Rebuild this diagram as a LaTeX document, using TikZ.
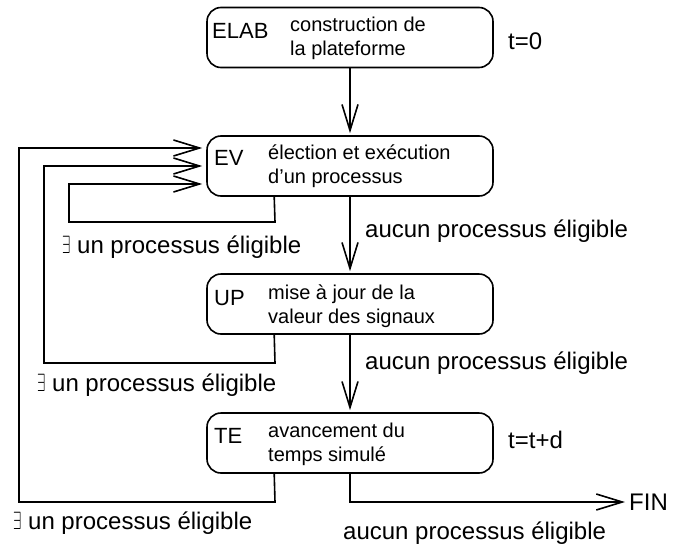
\documentclass[tikz,border=0pt]{standalone}
\usepackage{fontspec}
\setmainfont{Liberation Sans}
\usepackage{graphicx}
\usetikzlibrary{arrows.meta,calc}

\newcommand{\exsym}{\scalebox{.6}[1]{$\exists$}}

\begin{document}
\begin{tikzpicture}[x=1pt,y=-1pt,
  stage/.style={draw, line width=1.6pt, rounded corners=14pt,
    minimum width=286pt, minimum height=60pt, inner sep=0pt},
  tag/.style={anchor=base west, inner sep=0pt, font=\fontsize{22}{26}\selectfont},
  desc/.style={anchor=base west, inner sep=0pt, font=\fontsize{20}{24}\selectfont},
  note/.style={anchor=base west, inner sep=0pt, font=\fontsize{24}{28}\selectfont},
  flow/.style={line width=1.6pt,
    -{Straight Barb[length=26pt,width=16pt,line width=1.6pt]}}
]
\useasboundingbox (0,0) rectangle (676,546);

% the four phases of the simulation cycle
\node[stage] (elab) at (350,37.5) {};
\node[stage] (ev)   at (350,166) {};
\node[stage] (up)   at (350,304) {};
\node[stage] (te)   at (350,443) {};

% phase names and descriptions
\node[tag]  (elabT) at (212,38)  {ELAB};
\node[desc] (elabA) at (290,31)  {construction de};
\node[desc] (elabB) at (290,55)  {la plateforme};

\node[tag]  (evT) at (214,165) {EV};
\node[desc] (evA) at (268,159) {élection et exécution};
\node[desc] (evB) at (268,183) {d’un processus};

\node[tag]  (upT) at (214,305) {UP};
\node[desc] (upA) at (268,299) {mise à jour de la};
\node[desc] (upB) at (268,323) {valeur des signaux};

\node[tag]  (teT) at (214,443) {TE};
\node[desc] (teA) at (268,437) {avancement du};
\node[desc] (teB) at (268,461) {temps simulé};

% times
\node[note] (t0) at (508,49)  {t=0};
\node[note] (td) at (508,448) {t=t+d};
\node[note, anchor=west] (fin) at (629,502) {FIN};

% main sequence
\draw[flow, shorten >=2pt] (elab) -- (ev);
\draw[flow, shorten >=2pt] (ev) -- (up);
\draw[flow, shorten >=2pt] (up) -- (te);
\draw[flow] (te.south) |- ([xshift=-4pt]fin.west);

% return loops towards EV
\draw[flow] ($(ev.south west)+(68,0)$) -- (275,222) -- (69,222)
  |- ($(ev.west)+(-4,18)$);
\draw[flow] ($(up.south west)+(68,0)$) -- (275,363) -- (44,363)
  |- ($(ev.west)+(-4,0)$);
\draw[flow] ($(te.south west)+(68,0)$) -- (275,502) -- (19,502)
  |- ($(ev.west)+(-4,-18)$);

% conditions
\node[note] (c1) at (365,237) {aucun processus éligible};
\node[note] (c2) at (365,369) {aucun processus éligible};
\node[note] (c3) at (343,539) {aucun processus éligible};

\node[note] (e1) at (62,253) {\exsym\ un processus éligible};
\node[note] (e2) at (37,391) {\exsym\ un processus éligible};
\node[note] (e3) at (13,529) {\exsym\ un processus éligible};
\end{tikzpicture}
\end{document}
